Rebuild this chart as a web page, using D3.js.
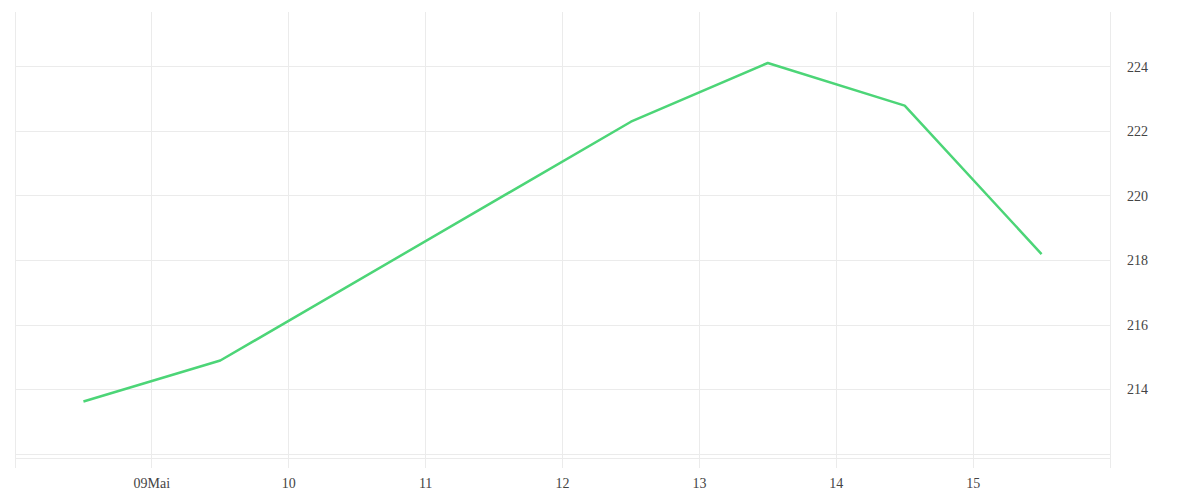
<!DOCTYPE html>
<html><head><meta charset="utf-8">
<script src="https://cdn.jsdelivr.net/npm/d3@7"></script>
<style>body{margin:0;background:#fff}svg{display:block}</style>
</head><body>
<svg id="c" width="1200" height="500"></svg>
<script>
const dates = ["2023-05-08T12:00","2023-05-09T12:00","2023-05-12T12:00","2023-05-13T12:00","2023-05-14T12:00","2023-05-15T12:00"];
const values = [213.63, 214.9, 222.3, 224.12, 222.8, 218.2];
const yTicks = [214, 216, 218, 220, 222, 224];
const yGrid = [212, 214, 216, 218, 220, 222, 224];
const xTickDates = ["2023-05-09","2023-05-10","2023-05-11","2023-05-12","2023-05-13","2023-05-14","2023-05-15"];
const xTickLabels = ["09Mai","10","11","12","13","14","15"];
const xGridDates = ["2023-05-08","2023-05-09","2023-05-10","2023-05-11","2023-05-12","2023-05-13","2023-05-14","2023-05-15","2023-05-16"];

(function(){
const parse = d3.isoParse;
const svg = d3.select("#c");
const mLeft = 15, mRight = 1110, mTop = 12, mBottom = 458;
const x = d3.scaleTime().domain([parse("2023-05-08"), parse("2023-05-16")]).range([mLeft, mRight]);
const y = d3.scaleLinear().domain([211.88, 225.7]).range([mBottom, mTop]);
const grid = "#ebebeb";
const font = "'Liberation Serif', serif";

svg.append("g").selectAll("line").data(xGridDates).join("line")
  .attr("x1", d => x(parse(d))).attr("x2", d => x(parse(d)))
  .attr("y1", mTop).attr("y2", 468)
  .attr("stroke", grid).attr("stroke-width", 1).attr("shape-rendering","crispEdges");
svg.append("g").selectAll("line").data(yGrid).join("line")
  .attr("x1", mLeft).attr("x2", mRight)
  .attr("y1", d => y(d)).attr("y2", d => y(d))
  .attr("stroke", grid).attr("stroke-width", 1).attr("shape-rendering","crispEdges");
svg.append("line").attr("x1", mLeft).attr("x2", mRight).attr("y1", mBottom).attr("y2", mBottom)
  .attr("stroke", grid).attr("shape-rendering","crispEdges");

svg.append("g").selectAll("text").data(xTickDates).join("text")
  .attr("x", d => x(parse(d))).attr("y", 488)
  .attr("text-anchor","middle").attr("font-family", font).attr("font-size", 14)
  .attr("fill","#444").text((d,i) => xTickLabels[i]);

svg.append("g").selectAll("text").data(yTicks).join("text")
  .attr("x", 1127).attr("y", d => y(d)).attr("dy","0.35em")
  .attr("text-anchor","start").attr("font-family", font).attr("font-size", 14)
  .attr("fill","#444").text(d => d);

const pts = dates.map((d,i) => [parse(d), values[i]]);
svg.append("path").datum(pts)
  .attr("d", d3.line().x(d => x(d[0])).y(d => y(d[1])))
  .attr("fill","none").attr("stroke","#4cd577").attr("stroke-width",2.5)
  .attr("stroke-linejoin","round");
})();
</script>
</body></html>
